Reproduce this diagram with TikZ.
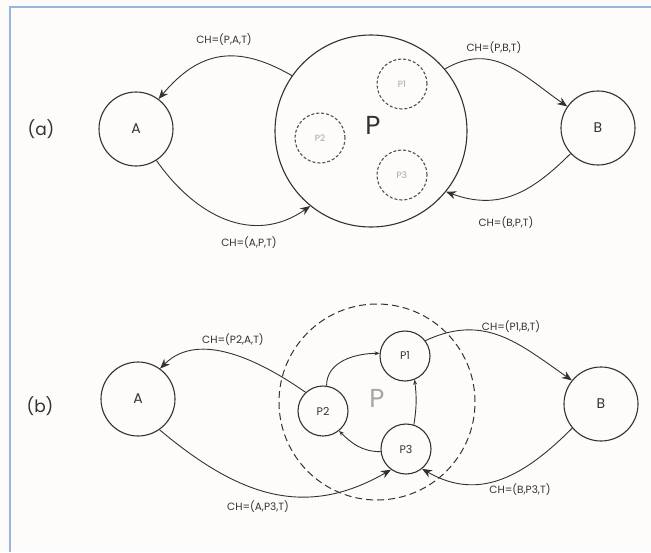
\documentclass[tikz,border=0pt]{standalone}
\usepackage{fontspec}
\setmainfont{Poppins}
\definecolor{inkgray}{RGB}{50, 50, 50}
\definecolor{ghostgray}{RGB}{165, 165, 165}
\definecolor{frameblue}{RGB}{150, 182, 218}
\definecolor{paperwhite}{RGB}{253, 252, 250}
\usetikzlibrary{arrows.meta}

\begin{document}
\begin{tikzpicture}[x=1pt, y=-1pt,
    proc/.style={draw=inkgray, line width=1.1pt, circle, inner sep=0pt,
      minimum size=#1, font=\fontsize{14}{16}\selectfont, text=inkgray},
    proc/.default=74pt,
    chan/.style={draw=inkgray, line width=0.9pt, -{Stealth[length=10pt, width=8pt]}},
    hop/.style={draw=inkgray, line width=0.9pt, -{Stealth[length=5pt, width=4pt]}},
    lbl/.style={font=\fontsize{10.5}{12}\selectfont, text=inkgray}]
  % Paper and frame
  \fill[paperwhite] (0,0) rectangle (651,552);
  \useasboundingbox (0,0) rectangle (651,552);
  \draw[frameblue, line width=2pt] (9.5,552) -- (9.5,7) -- (651,7);

  % (a) one process P
  \node[font=\fontsize{17}{19}\selectfont, text=inkgray] (atag) at (41,129) {(a)};
  \node[proc] (aA) at (136,129) {A};
  \node[proc] (aB) at (598,128) {B};
  \node[proc=192pt] (aP) at (371,131) {};
  \node[font=\fontsize{26}{28}\selectfont, text=inkgray] (aPname) at (373,125) {P};
  \foreach \n/\x/\y in {1/402/84, 2/320/138, 3/402/175}{
    \node[proc=50pt, dash pattern=on 3pt off 2pt, draw=inkgray!85,
      font=\fontsize{9}{10}\selectfont, text=ghostgray] (aP\n) at (\x,\y) {P\n};
  }

  \draw[chan] (aP.145) to[out=150, in=50, looseness=1.2] (aA.53);
  \draw[chan] (aA.-57) to[out=-55, in=215, looseness=1.1] (aP.231);
  \draw[chan] (aP.40) to[out=30, in=145, looseness=1.1] (aB.145);
  \draw[chan] (aB.223) to[out=225, in=-20, looseness=1.1] (aP.-39);

  \node[lbl] (aPA) at (224,40) {CH=(P,A,T)};
  \node[lbl] (aAP) at (249,243) {CH=(A,P,T)};
  \node[lbl] (aPB) at (494,48) {CH=(P,B,T)};
  \node[lbl] (aBP) at (506,223) {CH=(B,P,T)};

  % (b) P split into P1, P2, P3
  \node[font=\fontsize{17}{19}\selectfont, text=inkgray] (btag) at (40,406) {(b)};
  \node[proc] (bA) at (138,399) {A};
  \node[proc] (bB) at (601,404) {B};
  \node[proc=196pt, line width=1pt, dash pattern=on 7pt off 4pt] (bP) at (377,402) {};
  \node[font=\fontsize{26}{28}\selectfont, text=ghostgray] (bPname) at (377,398) {P};
  \node[proc=50pt, font=\fontsize{11}{12}\selectfont] (bP1) at (405,356) {P1};
  \node[proc=50pt, font=\fontsize{11}{12}\selectfont] (bP2) at (323,411) {P2};
  \node[proc=50pt, font=\fontsize{11}{12}\selectfont] (bP3) at (406,449) {P3};

  \draw[hop] (bP2.82) to[out=90, in=180] (bP1.174);
  \draw[hop] (bP3.72) to[bend right=8] (bP1.-68);
  \draw[hop] (bP3.186) to[out=180, in=-45] (bP2.-51);

  \draw[chan] (bP2.133) to[out=145, in=45, looseness=0.95] (bA.54);
  \draw[chan] (bA.-55) to[out=-40, in=210, looseness=1.1] (bP3.234);
  \draw[chan] (bP1.37) to[out=25, in=145, looseness=1.1] (bB.141);
  \draw[chan] (bB.220) to[out=225, in=-30, looseness=1.1] (bP3.309);

  \node[lbl] (bPA) at (233,340) {CH=(P2,A,T)};
  \node[lbl] (bAP) at (258,507) {CH=(A,P3,T)};
  \node[lbl] (bPB) at (511,327) {CH=(P1,B,T)};
  \node[lbl] (bBP) at (520,490) {CH=(B,P3,T)};
\end{tikzpicture}
\end{document}
